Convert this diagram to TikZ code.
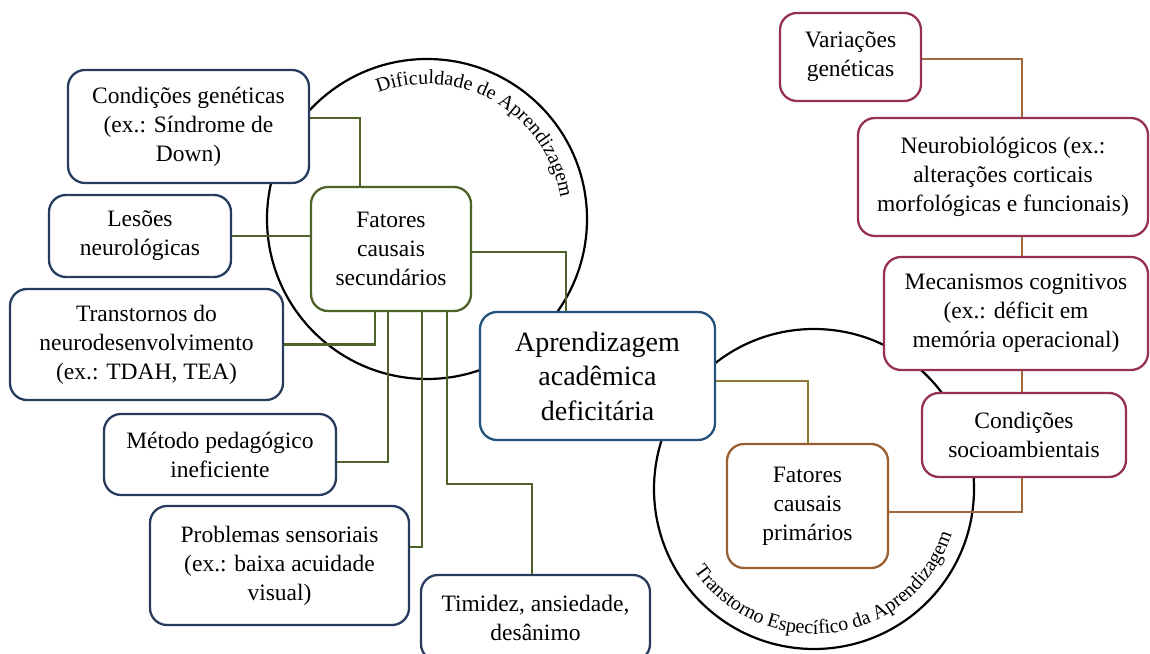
\documentclass[tikz,border=0pt]{standalone}
\usepackage{fontspec}
\setmainfont{Liberation Serif}
\usetikzlibrary{decorations.text}
\definecolor{navyb}{RGB}{40,60,96}
\definecolor{aprb}{RGB}{36,82,122}
\definecolor{greenl}{RGB}{79,98,40}
\definecolor{primb}{RGB}{152,96,50}
\definecolor{redb}{RGB}{150,48,84}
\definecolor{brownl}{RGB}{160,104,60}
\definecolor{goldl}{RGB}{140,122,52}
\begin{document}
\begin{tikzpicture}[x=1pt,y=1pt,
  box/.style={draw, line width=2.3pt, rounded corners=17pt, fill=white, align=center,
    inner sep=2pt, font=\fontsize{23.5}{29}\selectfont},
  leftbox/.style={box, draw=navyb},
  rightbox/.style={box, draw=redb},
  gline/.style={draw=greenl, line width=2.2pt},
  bline/.style={draw=brownl, line width=2.2pt},
  ring/.style={draw=black, line width=2.2pt}]
\useasboundingbox (0,0) rectangle (1150,653);
\clip (0,0) rectangle (1150,653);
\fill[white] (0,0) rectangle (1150,653);

% circles
\draw[ring] (427,434) circle[radius=160];
\draw[ring] (814,164) circle[radius=160];
\path[decorate, decoration={text along path, text align=center,
  text={|\fontsize{20}{20}\selectfont|Dificuldade de Aprendizagem}}]
  (427,434) ++(120:135) arc[start angle=120, end angle=0, radius=135];
\path[decorate, decoration={text along path, text align=center,
  text={|\fontsize{20}{20}\selectfont|Transtorno Específico da Aprendizagem}}]
  (814,164) ++(214:145) arc[start angle=214, end angle=342, radius=145];

% nodes
\node[leftbox, minimum width=241pt, minimum height=113pt] (cond) at (188.5,526.5)
  {Condições genéticas\\(ex.: Síndrome de\\Down)};
\node[leftbox, minimum width=182pt, minimum height=82pt] (les) at (140,417)
  {Lesões\\neurológicas};
\node[leftbox, minimum width=273pt, minimum height=111pt] (trans) at (146.5,308.5)
  {Transtornos do\\neurodesenvolvimento\\(ex.: TDAH, TEA)};
\node[box, draw=greenl, minimum width=160pt, minimum height=124pt] (fsec) at (391,404)
  {Fatores\\causais\\secundários};
\node[leftbox, minimum width=232pt, minimum height=81pt] (met) at (220,198.5)
  {Método pedagógico\\ineficiente};
\node[leftbox, minimum width=259pt, minimum height=119pt] (prob) at (279.5,87.5)
  {Problemas sensoriais\\(ex.: baixa acuidade\\visual)};
\node[leftbox, minimum width=229pt, minimum height=86pt] (tim) at (535.5,35)
  {Timidez, ansiedade,\\desânimo};
\node[box, draw=aprb, minimum width=235pt, minimum height=128pt,
  font=\fontsize{28}{34.5}\selectfont] (apr) at (597.5,277)
  {Aprendizagem\\acadêmica\\deficitária};
\node[box, draw=primb, minimum width=161pt, minimum height=124pt] (fprim) at (807.5,147)
  {Fatores\\causais\\primários};
\node[rightbox, minimum width=204pt, minimum height=84pt] (socio) at (1024,218)
  {Condições\\socioambientais};
\node[rightbox, minimum width=264pt, minimum height=113pt] (mec) at (1016,339.5)
  {Mecanismos cognitivos\\(ex.: déficit em\\memória operacional)};
\node[rightbox, minimum width=290pt, minimum height=118pt] (neuro) at (1003,476)
  {Neurobiológicos (ex.:\\alterações corticais\\morfológicas e funcionais)};
\node[rightbox, minimum width=141pt, minimum height=88pt] (var) at (850.5,596)
  {Variações\\genéticas};

% junction coordinates
\coordinate (j1) at (360,535);
\coordinate (j2) at (566,401);
\coordinate (j3) at (375,310);
\coordinate (j4) at (388,191);
\coordinate (j5) at (422,106);
\coordinate (j6) at (447,169);
\coordinate (j6b) at (532,169);
\coordinate (j7) at (808,272);
\coordinate (j8) at (1022,141);
\coordinate (j9) at (1022,594);

% green connectors
\draw[gline] (cond.east |- j1) -| (fsec.north -| j1);
\draw[gline] (les.east) -- (les.east -| fsec.west);
\draw[gline] (fsec.east |- j2) -| (apr.north -| j2);
\draw[gline] (fsec.south -| j3) |- (trans.east);
\draw[gline] (fsec.south -| j4) |- (met.east |- j4);
\draw[gline] (fsec.south -| j5) |- (prob.east |- j5);
\draw[gline] (fsec.south -| j6) -- (j6) -- (j6b) -- (tim.north -| j6b);

% right connectors
\draw[draw=goldl, line width=2.2pt] (apr.east |- j7) -| (fprim.north -| j7);
\draw[bline] (fprim.east |- j8) -| (socio.south -| j8);
\draw[bline] (socio.north -| j8) -- (mec.south -| j8);
\draw[bline] (mec.north -| j8) -- (neuro.south -| j8);
\draw[bline] (neuro.north -| j9) -- (j9) -- (var.east |- j9);
\end{tikzpicture}
\end{document}
